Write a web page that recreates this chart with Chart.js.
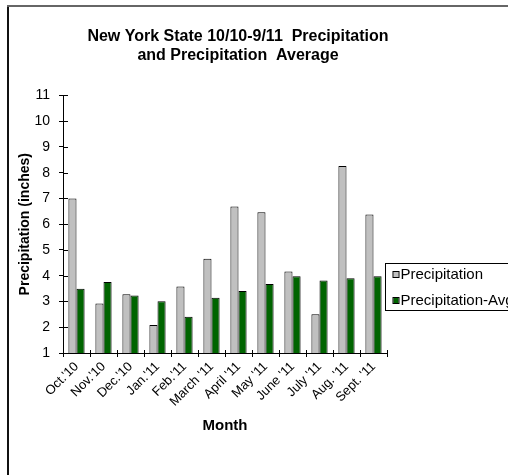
<!DOCTYPE html>
<html>
<head>
<meta charset="utf-8">
<title>New York State Precipitation</title>
<script src="https://cdn.jsdelivr.net/npm/chart.js@4/dist/chart.umd.min.js"></script>
<style>
  html, body { margin: 0; padding: 0; background: #fff; overflow: hidden; }
  #wrap { width: 508px; height: 475px; position: relative; }
</style>
</head>
<body>
<div id="wrap"><canvas id="chart" width="508" height="475"></canvas></div>
<script>
// Monthly totals, October 2010 – September 2011 (inches)
const months = ["Oct.'10", "Nov.'10", "Dec.'10", "Jan.'11", "Feb.'11", "March '11",
                "April '11", "May '11", "June '11", "July '11", "Aug. '11", "Sept. '11"];
const precipitation = [7.00, 2.92, 3.28, 2.09, 3.58, 4.66, 6.69, 6.46, 4.16, 2.50, 8.26, 6.38];
const precipitationAvg = [3.49, 3.76, 3.23, 3.01, 2.41, 3.14, 3.41, 3.68, 3.98, 3.81, 3.90, 3.98];
const seriesNames = ["Precipitation", "Precipitation-Avg"];
const yTickMin = 1;
const yTickMax = 11;

const FONT = "'Liberation Sans', Arial, Helvetica, sans-serif";

// Outer frame lines (left and top edges of the chart border)
const framePlugin = {
  id: 'frame',
  beforeDraw(chart) {
    const ctx = chart.ctx;
    ctx.save();
    ctx.fillStyle = '#ffffff';
    ctx.fillRect(0, 0, chart.width, chart.height);
    ctx.fillStyle = '#111111';
    ctx.fillRect(7, 5, 2, chart.height);
    ctx.fillStyle = '#666666';
    ctx.fillRect(7, 5, chart.width, 2);
    ctx.restore();
  }
};

// Tick marks that cross the axis lines (inner halves; outer halves come from the grid)
const crossTicksPlugin = {
  id: 'crossTicks',
  afterDraw(chart) {
    const ctx = chart.ctx;
    const xs = chart.scales.x, ys = chart.scales.y;
    ctx.save();
    ctx.strokeStyle = '#000';
    ctx.lineWidth = 1;
    ctx.beginPath();
    ys.ticks.forEach(t => {
      const py = Math.round(ys.getPixelForValue(t.value)) + 0.5;
      ctx.moveTo(xs.left, py);
      ctx.lineTo(xs.left + 5, py);
    });
    const n = chart.data.labels.length;
    for (let i = 0; i <= n; i++) {
      const px = Math.round(xs.left + i * (xs.width / n)) + 0.5;
      ctx.moveTo(px, ys.bottom);
      ctx.lineTo(px, ys.bottom - 3);
    }
    ctx.stroke();
    ctx.restore();
  }
};

// Boxed legend to the right of the plot
const boxLegendPlugin = {
  id: 'boxLegend',
  afterDraw(chart) {
    const ctx = chart.ctx;
    const area = chart.chartArea;
    const left = Math.round(area.right) - 1.5;
    const top = Math.round(area.bottom) - 89.5;
    ctx.save();
    ctx.strokeStyle = '#000';
    ctx.lineWidth = 1;
    ctx.strokeRect(left, top, 200, 47);
    ctx.font = '15px ' + FONT;
    ctx.textBaseline = 'middle';
    ctx.textAlign = 'left';
    chart.data.datasets.forEach((ds, i) => {
      const cy = top + 11 + i * 26;
      ctx.fillStyle = ds.backgroundColor;
      ctx.fillRect(left + 8, cy - 2.5, 5, 5);
      ctx.strokeStyle = '#000';
      ctx.strokeRect(left + 7.5, cy - 3, 6, 6);
      ctx.fillStyle = '#000';
      ctx.fillText(ds.label, left + 15, cy);
    });
    ctx.restore();
  }
};

new Chart(document.getElementById('chart'), {
  type: 'bar',
  data: {
    labels: months,
    datasets: [
      {
        label: seriesNames[0],
        data: precipitation,
        backgroundColor: '#c0c0c0',
        borderColor: '#000',
        borderWidth: 1
      },
      {
        label: seriesNames[1],
        data: precipitationAvg,
        backgroundColor: '#006400',
        borderColor: '#000',
        borderWidth: 1
      }
    ]
  },
  options: {
    responsive: false,
    animation: false,
    events: [],
    layout: { padding: { left: 13, right: 45, top: 5, bottom: 36 } },
    datasets: {
      bar: { categoryPercentage: 0.6, barPercentage: 1.0 }
    },
    plugins: {
      legend: { display: false },
      tooltip: { enabled: false },
      title: {
        display: true,
        text: ['New York State 10/10-9/11  Precipitation', 'and Precipitation  Average'],
        color: '#000',
        font: { family: FONT, size: 16, weight: 'bold', lineHeight: 1.2 },
        padding: { top: 22, bottom: 30 }
      }
    },
    scales: {
      x: {
        grid: { drawOnChartArea: false, tickLength: 4, color: '#000', offset: true },
        border: { display: true, color: '#000', width: 1 },
        ticks: {
          color: '#000',
          font: { family: FONT, size: 13 },
          minRotation: 45,
          maxRotation: 45,
          autoSkip: false,
          padding: 2
        },
        title: {
          display: true,
          text: 'Month',
          color: '#000',
          font: { family: FONT, size: 15, weight: 'bold', lineHeight: 1.2 },
          padding: { top: 4, bottom: 4 }
        },
        afterFit(scale) { scale.height = 86; }
      },
      y: {
        min: yTickMin,
        max: yTickMax,
        grid: { drawOnChartArea: false, tickLength: 4, color: '#000' },
        border: { display: true, color: '#000', width: 1 },
        ticks: {
          stepSize: 1,
          color: '#000',
          font: { family: FONT, size: 14 },
          padding: 9
        },
        title: {
          display: true,
          text: 'Precipitation (inches)',
          color: '#000',
          font: { family: FONT, size: 14, weight: 'bold', lineHeight: 1.2 },
          padding: { top: 4, bottom: 0 }
        },
        afterFit(scale) { scale.width = 50; }
      },
      legendSpace: {
        type: 'linear',
        position: 'right',
        display: true,
        grid: { display: false, drawTicks: false },
        border: { display: false },
        ticks: { display: false },
        afterFit(scale) { scale.width = 76; }
      }
    }
  },
  plugins: [framePlugin, crossTicksPlugin, boxLegendPlugin]
});
</script>
</body>
</html>
